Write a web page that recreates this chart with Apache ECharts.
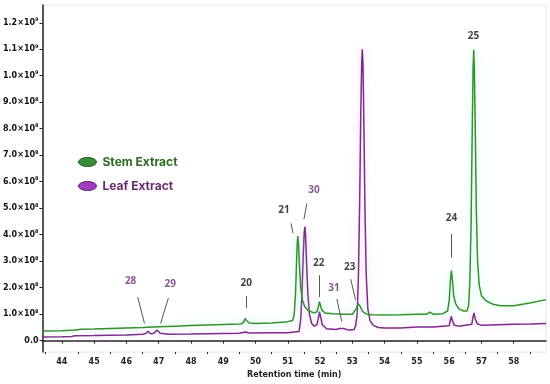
<!DOCTYPE html>
<html><head><meta charset="utf-8">
<script src="https://cdn.jsdelivr.net/npm/echarts@6/dist/echarts.min.js"></script>
<style>html,body{margin:0;padding:0;background:#fff}#c{width:550px;height:384px}</style>
</head><body><div id="c"></div>
<script>
// Retention time (min) and abundance (units of 1e8)
var stemX = [43.4,44.0,44.4,44.6,45.0,45.5,46.0,46.5,47.0,47.5,48.0,48.5,49.0,49.5,49.58,49.64,49.68,49.72,49.8,50.0,50.5,51.0,51.15,51.2,51.24,51.27,51.29,51.31,51.33,51.36,51.4,51.45,51.52,51.62,51.8,51.9,51.95,51.98,52.01,52.06,52.15,52.4,52.7,53.0,53.05,53.12,53.18,53.24,53.32,53.45,53.6,54.0,54.5,55.0,55.3,55.4,55.5,55.8,55.95,56.0,56.04,56.07,56.1,56.14,56.2,56.3,56.45,56.55,56.6,56.64,56.68,56.71,56.74,56.76,56.78,56.81,56.84,56.88,56.93,57.0,57.15,57.35,57.6,58.0,58.5,59.0];
var stemY = [0.37,0.38,0.40,0.43,0.44,0.46,0.48,0.50,0.53,0.55,0.57,0.59,0.61,0.63,0.64,0.72,0.84,0.76,0.67,0.65,0.67,0.72,0.76,1.0,1.8,2.9,3.6,3.95,3.7,2.9,2.0,1.55,1.3,1.15,1.05,1.08,1.3,1.47,1.35,1.15,1.05,1.02,1.0,1.0,1.02,1.2,1.4,1.3,1.1,1.0,0.98,0.97,0.98,1.0,1.0,1.08,1.0,1.02,1.12,1.5,2.3,2.65,2.3,1.7,1.4,1.2,1.12,1.12,1.3,2.2,4.5,7.5,10.2,10.98,10.3,7.8,5.0,3.0,2.1,1.7,1.5,1.38,1.32,1.32,1.42,1.55];
var leafX = [43.4,44.0,44.3,44.4,45.0,45.5,46.0,46.5,46.6,46.67,46.75,46.85,46.95,47.05,47.3,48.0,48.5,49.0,49.5,49.68,49.8,50.5,51.0,51.35,51.4,51.44,51.48,51.51,51.53,51.55,51.58,51.62,51.67,51.74,51.82,51.9,51.95,51.98,52.01,52.07,52.2,52.5,52.6,52.65,52.72,52.9,53.05,53.1,53.15,53.19,53.23,53.26,53.29,53.31,53.33,53.36,53.39,53.43,53.48,53.55,53.65,53.8,54.0,54.5,55.0,55.5,56.0,56.04,56.07,56.1,56.16,56.3,56.7,56.74,56.77,56.8,56.87,57.0,57.5,58.0,58.5,59.0];
var leafY = [0.14,0.15,0.16,0.19,0.20,0.21,0.22,0.24,0.27,0.36,0.26,0.28,0.40,0.28,0.24,0.25,0.26,0.27,0.28,0.33,0.29,0.30,0.30,0.35,0.8,1.8,3.3,4.1,4.3,4.0,3.0,1.8,1.0,0.65,0.55,0.6,0.85,1.1,0.95,0.6,0.45,0.42,0.46,0.53,0.46,0.40,0.42,0.55,1.0,2.5,5.5,8.5,10.5,11.0,10.4,8.0,5.0,2.5,1.2,0.75,0.58,0.5,0.48,0.48,0.52,0.52,0.56,0.8,0.92,0.75,0.58,0.55,0.62,0.9,1.05,0.85,0.64,0.58,0.6,0.62,0.63,0.65];
var xTicks = [44,45,46,47,48,49,50,51,52,53,54,55,56,57,58];
var xMinorTicks = [43.5,44.5,45.5,46.5,47.5,48.5,49.5,50.5,51.5,52.5,53.5,54.5,55.5,56.5,57.5,58.5];
var yTicks = [0,1,2,3,4,5,6,7,8,9,10,11,12];
// Peak annotations: text, group, label position, leader line start, leader line end
var peakText = ['28','29','20','21','30','22','31','23','24','25'];
var peakGroup = ['leaf','leaf','stem','stem','leaf','stem','leaf','stem','stem','stem'];
var peakLabelPos = [[46.13,2.24],[47.36,2.13],[49.71,2.17],[50.88,4.92],[51.81,5.70],[51.96,2.91],[52.43,1.99],[52.92,2.76],[56.07,4.62],[56.75,11.48]];
var peakLineFrom = [[46.35,1.65],[47.30,1.61],[49.71,1.69],[51.10,4.43],[51.59,5.18],[51.99,2.47],[52.52,1.58],[52.95,2.32],[56.07,4.03],null];
var peakLineTo = [[46.56,0.65],[47.06,0.65],[49.71,1.24],[51.16,4.06],[51.50,4.58],[51.99,1.65],[52.67,0.72],[53.10,1.54],[56.07,3.14],null];

var GREEN = '#37902a', PURPLE = '#7b2c87';
var stemData = stemX.map(function(x,i){return [x, stemY[i]];});
var leafData = leafX.map(function(x,i){return [x, leafY[i]];});
var labelData = peakText.map(function(t,i){
  return {value: peakLabelPos[i], name: t,
    label: {color: peakGroup[i]==='leaf' ? '#6e2c72' : '#111'}};
});
var lineData = [];
peakText.forEach(function(t,i){
  if (peakLineFrom[i]) lineData.push([{coord: peakLineFrom[i]},{coord: peakLineTo[i]}]);
});

function yFmt(v){
  if (v===0) return '0.0';
  if (v<10) return v.toFixed(1)+'×10{s|8}';
  return (v/10).toFixed(1)+'×10{s|9}';
}
var FONT = 'DejaVu Sans';
var chart = echarts.init(document.getElementById('c'), null, {renderer:'canvas'});
chart.setOption({
  animation: false,
  backgroundColor: '#fff',
  grid: {left: 40, right: 4, top: 5, bottom: 26, show: true, borderColor: '#e6e6e6', borderWidth: 1, backgroundColor: 'transparent'},
  legend: {
    orient: 'vertical', left: 73, top: 151, itemWidth: 20, itemHeight: 9, itemGap: 12,
    icon: 'path://M0,5 A10,5 0 1,1 20,5 A10,5 0 1,1 0,5 Z',
    textStyle: {fontFamily: 'Inter', fontWeight: 'bold', fontSize: 12},
    data: [
      {name: 'Stem Extract', itemStyle: {color: '#3a8c3a', borderColor: '#1f5a1f', borderWidth: 1}, textStyle: {color: '#2f6a22'}},
      {name: 'Leaf Extract', itemStyle: {color: '#a23cc0', borderColor: '#5e1f6e', borderWidth: 1}, textStyle: {color: '#6a2a6e'}}
    ]
  },
  xAxis: [{
    type: 'value', min: 43.4, max: 59.0,
    name: 'Retention time (min)', nameLocation: 'middle', nameGap: 17,
    nameTextStyle: {fontFamily: FONT, fontWeight: 'bold', fontSize: 8, color: '#222'},
    axisLine: {show: true, lineStyle: {color: '#222', width: 1.5}},
    axisTick: {show: true, customValues: xTicks, length: 3, lineStyle: {color: '#222'}},
    axisLabel: {customValues: xTicks, fontFamily: FONT, fontWeight: 'bold', fontSize: 8, color: '#222', margin: 6},
    splitLine: {show: false}
  },{
    type: 'value', min: 43.4, max: 59.0, position: 'bottom',
    axisLine: {show: false},
    axisTick: {show: true, customValues: xMinorTicks, length: 2, lineStyle: {color: '#222'}},
    axisLabel: {show: false}, splitLine: {show: false}
  }],
  yAxis: {
    type: 'value', min: -0.43, max: 12.67,
    axisLine: {show: true, lineStyle: {color: '#222', width: 1.5}},
    axisTick: {show: true, customValues: yTicks, length: 3, lineStyle: {color: '#222'}},
    axisLabel: {customValues: yTicks, formatter: yFmt, fontFamily: FONT, fontWeight: 'bold', fontSize: 8, color: '#111', margin: 4,
      rich: {s: {fontSize: 5, fontFamily: FONT, fontWeight: 'bold', color: '#111', verticalAlign: 'top', padding: [0,0,6,0]}}},
    splitLine: {show: false}
  },
  series: [
    {name: 'Stem Extract', type: 'line', data: stemData, showSymbol: false, smooth: false,
     lineStyle: {color: GREEN, width: 1.5, shadowColor: 'rgba(120,255,230,0.6)', shadowBlur: 8}, itemStyle: {color: GREEN}, z: 3},
    {name: 'Leaf Extract', type: 'line', data: leafData, showSymbol: false, smooth: false,
     lineStyle: {color: PURPLE, width: 1.5, shadowColor: 'rgba(255,170,255,0.6)', shadowBlur: 8}, itemStyle: {color: PURPLE}, z: 2,
     markLine: {silent: true, symbol: 'none', label: {show: false}, lineStyle: {color: '#555', width: 1, type: 'solid'}, data: lineData}},
    {name: 'labels', type: 'scatter', data: labelData, symbolSize: 0, silent: true, z: 5,
     label: {show: true, position: 'inside', formatter: '{b}', fontFamily: 'Open Sans', fontWeight: 'bold', fontSize: 10}}
  ]
});
</script></body></html>
